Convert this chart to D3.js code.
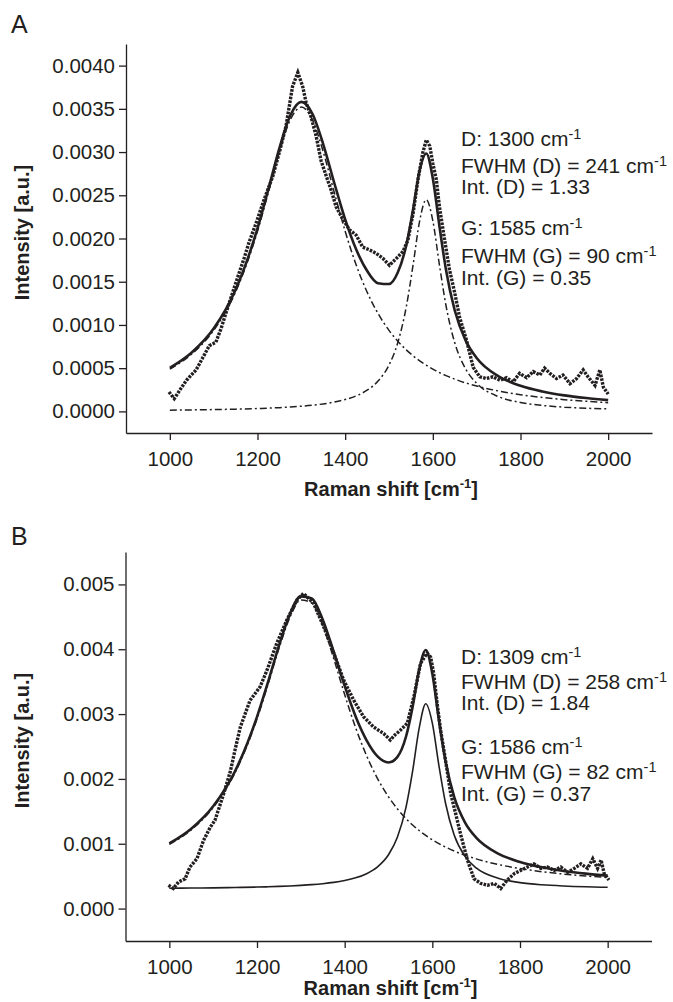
<!DOCTYPE html>
<html>
<head>
<meta charset="utf-8">
<script src="https://cdnjs.cloudflare.com/ajax/libs/d3/7.8.5/d3.min.js"></script>
<style>
  body { margin: 0; background: #fff; }
  text { font-family: "Liberation Sans", Arial, sans-serif; fill: #231f20; }
</style>
</head>
<body>
<div id="chart-area"></div>
<script>
var shiftFit = [1000,1050,1100,1150,1200,1225,1250,1275,1300,1325,1350,1375,1400,1425,1450,1475,
  1500,1520,1540,1555,1570,1585,1600,1615,1630,1650,1675,1700,1750,1800,1850,1900,1950,2000];

/* Panel A: fit (sum), D band, G band */
var fitA = [0.000503,0.000681,0.000958,0.001407,0.002117,0.002575,0.003046,0.003426,0.00358,0.003446,
  0.00309,0.002645,0.002221,0.001875,0.001626,0.001483,0.001473,0.001606,0.001934,0.002339,0.00279,
  0.002984,0.002694,0.002145,0.001639,0.001167,0.000819,0.000618,0.000406,0.000296,0.00023,0.000185,0.000154,0.00013];
var dBandA = [0.000489,0.000664,0.000937,0.001381,0.002084,0.002537,0.003003,0.003375,0.00352,0.003375,
  0.003003,0.002537,0.002084,0.001695,0.001381,0.001132,0.000937,0.000812,0.000709,0.000643,0.000585,
  0.000534,0.000489,0.000449,0.000414,0.000373,0.000329,0.000293,0.000236,0.000193,0.000161,0.000136,0.000117,0.000101];
var gBandA = [0.0000144,0.0000172,0.0000209,0.0000259,0.000033,0.0000377,0.0000434,0.0000506,0.0000596,
  0.0000713,0.0000867,0.0001076,0.0001369,0.0001796,0.000245,0.000351,0.000536,0.000794,0.001225,0.001696,
  0.002205,0.00245,0.002205,0.001696,0.001225,0.000794,0.00049,0.000325,0.00017,0.000103,0.0000687,0.000049,0.0000367,0.0000285];

/* Panel A: measured spectrum [shift, intensity] */
var spectrumA = [[998,0.000224],[1010,0.000147],[1025,0.000263],[1038,0.00036],[1052,0.000437],[1060,0.00048],
  [1075,0.00062],[1090,0.00076],[1105,0.0008],[1117,0.00096],[1130,0.00117],[1143,0.00137],[1158,0.0016],
  [1170,0.00178],[1181,0.00196],[1197,0.00218],[1215,0.00245],[1235,0.00272],[1250,0.003],[1265,0.0033],
  [1280,0.00376],[1292,0.00392],[1303,0.00376],[1311,0.00357],[1322,0.00341],[1334,0.00318],[1345,0.0029],
  [1357,0.00272],[1368,0.00256],[1379,0.00237],[1395,0.00222],[1410,0.0021],[1425,0.00204],[1440,0.0019],
  [1455,0.00187],[1470,0.00183],[1486,0.00177],[1501,0.00169],[1517,0.00177],[1532,0.00185],[1543,0.00198],
  [1555,0.00229],[1566,0.00268],[1577,0.00299],[1585,0.00314],[1593,0.00307],[1600,0.00287],[1608,0.00268],
  [1615,0.00237],[1627,0.00198],[1638,0.00164],[1650,0.00137],[1661,0.00109],[1677,0.00082],[1692,0.00051],
  [1707,0.0004],[1722,0.00038],[1737,0.0004],[1753,0.00036],[1768,0.00039],[1783,0.00034],[1798,0.00044],
  [1814,0.00039],[1829,0.00046],[1844,0.00042],[1855,0.0005],[1867,0.00044],[1882,0.00038],[1897,0.00042],
  [1913,0.00032],[1928,0.00038],[1943,0.00048],[1954,0.0004],[1970,0.0003],[1981,0.00048],[1989,0.00028],[2000,0.0002]];

/* Panel B: fit (sum), D band, G band */
var fitB = [0.001004,0.001232,0.001578,0.002121,0.002958,0.003491,0.004052,0.00454,0.004816,0.004782,
  0.004456,0.003961,0.003434,0.002964,0.002596,0.002348,0.002254,0.002337,0.002654,0.00311,0.003686,
  0.003988,0.003622,0.002908,0.002278,0.001719,0.001323,0.001095,0.000849,0.000718,0.000636,0.00058,0.000539,0.000508];
var dBandB = [0.00099,0.001215,0.001558,0.002096,0.002926,0.003455,0.00401,0.004491,0.004758,0.004713,
  0.004372,0.003857,0.003301,0.00279,0.002358,0.002005,0.001724,0.001541,0.001388,0.00129,0.001204,
  0.001128,0.001061,0.001002,0.000949,0.000887,0.000822,0.000767,0.000681,0.000617,0.000569,0.000532,0.000503,0.00048];
var gBandB = [0.000314,0.000317,0.00032,0.000325,0.000332,0.000336,0.000342,0.000349,0.000358,0.000369,
  0.000384,0.000404,0.000433,0.000474,0.000538,0.000643,0.00083,0.001096,0.001566,0.00212,0.002782,
  0.00316,0.002861,0.002206,0.001629,0.001132,0.000801,0.000628,0.000468,0.000401,0.000367,0.000348,0.000336,0.000328];

/* Panel B: measured spectrum [shift, intensity] */
var spectrumB = [[998,0.00036],[1009,0.00031],[1021,0.00041],[1036,0.00046],[1047,0.00064],[1063,0.00077],
  [1078,0.00105],[1093,0.00125],[1104,0.00136],[1123,0.00175],[1139,0.00211],[1150,0.00245],[1162,0.0028],
  [1184,0.00321],[1207,0.00342],[1223,0.00368],[1245,0.00409],[1268,0.00445],[1291,0.00476],[1306,0.00486],
  [1329,0.00471],[1352,0.00435],[1375,0.00394],[1398,0.00352],[1421,0.00321],[1443,0.00296],[1466,0.0028],
  [1489,0.0027],[1504,0.0026],[1515,0.00268],[1527,0.00275],[1543,0.00286],[1558,0.00327],[1573,0.00378],
  [1588,0.00394],[1596,0.00388],[1603,0.00363],[1611,0.00316],[1619,0.00275],[1630,0.00229],[1642,0.00177],
  [1653,0.00147],[1664,0.00116],[1680,0.00075],[1695,0.00046],[1710,0.00039],[1726,0.00036],[1741,0.00039],
  [1756,0.00031],[1771,0.00044],[1787,0.00054],[1802,0.00059],[1817,0.00064],[1832,0.00069],[1848,0.00062],
  [1863,0.00064],[1878,0.00059],[1893,0.00064],[1909,0.00056],[1924,0.00062],[1939,0.00069],[1954,0.00062],
  [1966,0.00077],[1977,0.00062],[1985,0.00075],[1992,0.00054],[2003,0.00044]];

/* Ticks */
var xTicks = [1000,1200,1400,1600,1800,2000];
var xMinor = [900,1100,1300,1500,1700,1900,2100];
var yTicksA = [0,0.0005,0.001,0.0015,0.002,0.0025,0.003,0.0035,0.004];
var yMinorA = [0.00025,0.00075,0.00125,0.00175,0.00225,0.00275,0.00325,0.00375];
var yTicksB = [0,0.001,0.002,0.003,0.004,0.005];
var yMinorB = [0.0005,0.0015,0.0025,0.0035,0.0045];

/* Fit parameters written next to the curves: [text, superscript] */
var notesA = [["D: 1300 cm","-1"],["FWHM (D) = 241 cm","-1"],["Int. (D) = 1.33",""],
  ["G: 1585 cm","-1"],["FWHM (G) = 90 cm","-1"],["Int. (G) = 0.35",""]];
var notesB = [["D: 1309 cm","-1"],["FWHM (D) = 258 cm","-1"],["Int. (D) = 1.84",""],
  ["G: 1586 cm","-1"],["FWHM (G) = 82 cm","-1"],["Int. (G) = 0.37",""]];


var ink = "#231f20";

var svg = d3.select("#chart-area").append("svg")
  .attr("width", 673)
  .attr("height", 1002);


function drawPanel(p) {
  var g = svg.append("g");

  var x = d3.scaleLinear().domain([900, 2100]).range([p.left, p.right]);
  var y = d3.scaleLinear().domain(p.yDomain).range([p.bottom, p.top]);

  // panel letter
  g.append("text")
    .attr("x", 11)
    .attr("y", p.letterY)
    .attr("font-size", "25px")
    .text(p.letter);

  /* Axes */
  var xAxis = g.append("g").attr("transform", "translate(0," + p.bottom + ")");
  xAxis.call(d3.axisBottom(x).tickValues(xMinor).tickSize(6).tickSizeOuter(0).tickFormat(""));
  xAxis.call(d3.axisBottom(x).tickValues(xTicks).tickSize(7).tickPadding(11).tickSizeOuter(0)
    .tickFormat(d3.format("d")));

  var yAxis = g.append("g").attr("transform", "translate(" + p.left + ",0)");
  yAxis.call(d3.axisLeft(y).tickValues(p.yMinor).tickSize(4).tickSizeOuter(0).tickFormat(""));
  yAxis.call(d3.axisLeft(y).tickValues(p.yTicks).tickSize(7).tickPadding(4).tickSizeOuter(0)
    .tickFormat(d3.format(p.fmt)));

  g.selectAll(".domain, .tick line").attr("stroke", ink).attr("stroke-width", 1.3);
  g.selectAll(".tick text")
    .attr("font-size", "20.5px")
    .attr("font-family", "'Liberation Sans', Arial, sans-serif")
    .attr("fill", ink);

  // X Label
  var xl = g.append("text")
    .attr("x", (p.left + p.right) / 2 + 2)
    .attr("y", p.bottom + p.xLabelGap)
    .attr("font-size", "20px")
    .attr("font-weight", "bold")
    .attr("text-anchor", "middle");
  xl.append("tspan").text("Raman shift [cm");
  xl.append("tspan").attr("font-size", "13px").attr("dy", -8).text("-1");
  xl.append("tspan").attr("dy", 8).text("]");

  // Y Label
  g.append("text")
    .attr("x", -((p.top + p.bottom) / 2 - 6))
    .attr("y", 29)
    .attr("font-size", "20px")
    .attr("font-weight", "bold")
    .attr("text-anchor", "middle")
    .attr("transform", "rotate(-90)")
    .text("Intensity [a.u.]");

  /* Curves */
  var fitLine = d3.line()
    .x(function(d, i) { return x(shiftFit[i]); })
    .y(function(d) { return y(d); })
    .curve(d3.curveMonotoneX);

  g.append("path").attr("d", fitLine(p.dBand))
    .attr("fill", "none").attr("stroke", ink).attr("stroke-width", 1.5)
    .attr("stroke-dasharray", "7,3,2,3");

  g.append("path").attr("d", fitLine(p.gBand))
    .attr("fill", "none").attr("stroke", ink)
    .attr("stroke-width", p.gSolid ? 1.6 : 1.5)
    .attr("stroke-dasharray", p.gSolid ? null : "7,3,2,3");

  var dataLine = d3.line()
    .x(function(d) { return x(d[0]); })
    .y(function(d) { return y(d[1]); });

  g.append("path").attr("d", dataLine(p.spectrum))
    .attr("fill", "none").attr("stroke", ink).attr("stroke-width", 3.4)
    .attr("stroke-dasharray", "2.6,1.2");

  g.append("path").attr("d", fitLine(p.fit))
    .attr("fill", "none").attr("stroke", ink).attr("stroke-width", 2.6);

  /* Fit results */
  p.notes.forEach(function(n, i) {
    var t = g.append("text")
      .attr("x", 461)
      .attr("y", p.notesY[i])
      .attr("font-size", "21px");
    t.append("tspan").text(n[0]);
    if (n[1]) {
      t.append("tspan").attr("font-size", "14.5px").attr("dy", -7).text(n[1]);
    }
  });
}


drawPanel({
  letter: "A", letterY: 33,
  left: 126, right: 652, top: 44, bottom: 433, xLabelGap: 63,
  yDomain: [-0.00025, 0.00425], yTicks: yTicksA, yMinor: yMinorA, fmt: ".4f",
  fit: fitA, dBand: dBandA, gBand: gBandA, gSolid: false, spectrum: spectrumA,
  notes: notesA, notesY: [146, 172.5, 194, 235, 262.5, 285]
});

drawPanel({
  letter: "B", letterY: 545,
  left: 125.5, right: 651.5, top: 552, bottom: 941, xLabelGap: 54,
  yDomain: [-0.0005, 0.0055], yTicks: yTicksB, yMinor: yMinorB, fmt: ".3f",
  fit: fitB, dBand: dBandB, gBand: gBandB, gSolid: true, spectrum: spectrumB,
  notes: notesB, notesY: [663.5, 688.5, 709.5, 753.5, 779, 801]
});
</script>
</body>
</html>
